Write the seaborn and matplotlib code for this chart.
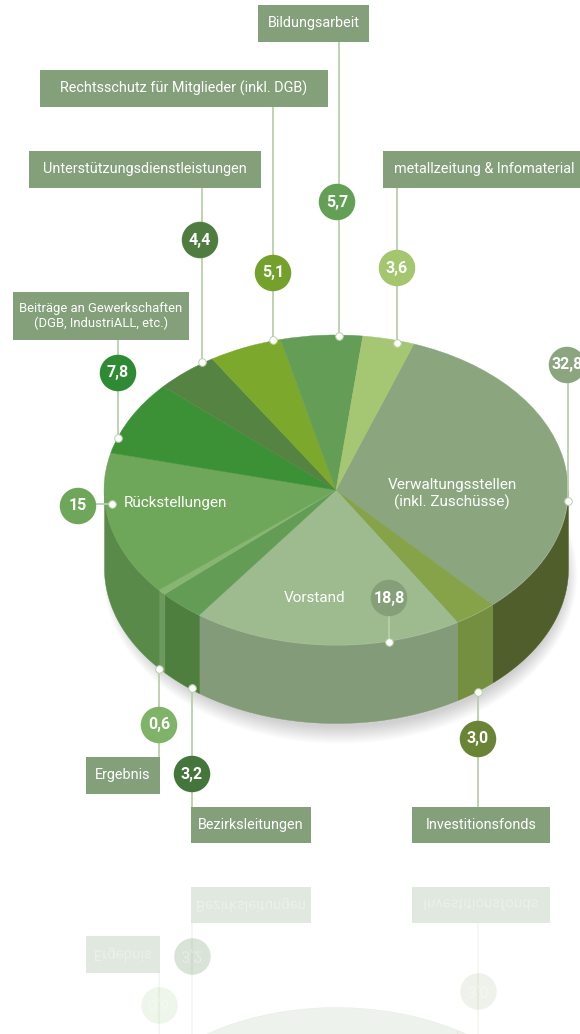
import matplotlib
matplotlib.use("Agg")
import matplotlib.pyplot as plt
import numpy as np
import pandas as pd
import seaborn as sns
from matplotlib.font_manager import FontProperties
from matplotlib.patches import Ellipse, PathPatch, Rectangle
from matplotlib.textpath import TextPath
from matplotlib.transforms import Affine2D

# data, clockwise from the big slice
segments = ["Verwaltungsstellen", "Investitionsfonds", "Vorstand", "Bezirksleitungen", "Ergebnis",
            "Rückstellungen", "Beiträge", "Unterstützung", "Rechtsschutz", "Bildungsarbeit", "metallzeitung"]
shares = [32.8, 3.0, 18.8, 3.2, 0.6, 15.0, 7.8, 4.4, 5.1, 5.7, 3.6]
share_labels = ["32,8", "3,0", "18,8", "3,2", "0,6", "15", "7,8", "4,4", "5,1", "5,7", "3,6"]

top_colors = ["#8ba67e", "#86a34a", "#9dbb8f", "#639c55", "#88b672", "#6ea65a",
              "#3c9136", "#558442", "#7ca82b", "#639d56", "#a5c672"]
wall_colors = ["#4f5e2a", "#748f40", "#839b78", "#4f7f3e", "#6c9a5e", "#5a8a4a",
               "#2f7a30", "#4f7d3f", "#74a12c", "#63a055", "#a3c66f"]
bubble_colors = ["#8ba67e", "#698434", "#85a079", "#44753a", "#7fb368", "#6ea65a",
                 "#2f8a34", "#4f7d3f", "#74a12c", "#63a055", "#a3c66f"]

# layout in picture pixels
CX, CY, RX, RY, DEPTH = 336, 490, 232, 155, 78
START = 70.4
MIRROR = 1730  # reflection: y -> MIRROR - y
BOX = "#84a07a"
LINE = "#b7d0aa"
FONT = ["Roboto"]

bubble_x = [567, 478, 389, 192, 159, 78, 118, 200, 273, 337, 397]
bubble_y = [365, 739, 598, 774, 725, 506, 373, 240, 273, 202, 268]
dot_x = [568, 478, 389, 192, 159, 112, 118, 202, 273, 339, 397]
dot_y = [501, 692, 642, 688, 669, 504, 438, 362, 340, 336, 343]
line_end = [365, 807, 598, 807, 757, 504, 340, 188, 107, 42, 188]

boxes = [
    ("Bildungsarbeit", 258, 5, 111, 37),
    ("Rechtsschutz für Mitglieder (inkl. DGB)", 40, 70, 288, 37),
    ("Unterstützungsdienstleistungen", 29, 151, 232, 37),
    ("metallzeitung & Infomaterial", 383, 151, 210, 37),
    ("Beiträge an Gewerkschaften\n(DGB, IndustriALL, etc.)", 13, 292, 176, 48),
    ("Ergebnis", 86, 757, 74, 37),
    ("Bezirksleitungen", 191, 807, 120, 36),
    ("Investitionsfonds", 412, 807, 138, 36),
]
mirrored = ["Ergebnis", "Bezirksleitungen", "Investitionsfonds"]
mirrored_idx = [segments.index(n) for n in mirrored]

sns.set_theme(style="white")
plt.rcParams["font.family"] = FONT

fig = plt.figure(figsize=(5.8, 10.34), dpi=100)
ax = fig.add_axes([0, 0, 1, 1])

# wedge edges in degrees, counted the way the pie does it
edges = START - np.cumsum([0] + shares) * 3.6


def draw_walls(flip=False, alpha=1.0, z=3):
    for i, col in enumerate(wall_colors):
        hi, lo = edges[i] % 360, edges[i + 1] % 360
        if hi == 0:
            hi = 360
        # only the front half of the rim can be seen
        for a, b in [(max(lo, 180), hi)] if lo < hi else [(max(lo, 180), 360), (180, hi)]:
            if a >= b:
                continue
            th = np.radians(np.linspace(a, b, 80))
            x = CX + RX * np.cos(th)
            y = CY - RY * np.sin(th)
            y0, y1 = y, y + DEPTH
            if flip:
                y0, y1 = MIRROR - y0, MIRROR - y1
            ax.fill_between(x, y0, y1, color=col, alpha=alpha, lw=0.3, zorder=z)


# soft shadow under the disc, pushed down and to the right
for k in range(12):
    ax.add_patch(Ellipse((CX + 4, CY + DEPTH + 7), 2 * RX - 14 + k * 2.2, 2 * RY - 6 + k * 3,
                         color="#555555", alpha=0.024, lw=0, zorder=2))

draw_walls()

wedges, _ = ax.pie(shares, colors=top_colors, startangle=START, counterclock=False,
                   radius=1, wedgeprops={"lw": 0.3, "zorder": 4})
squash = Affine2D().scale(RX, -RY).translate(CX, CY) + ax.transData
for w, col in zip(wedges, top_colors):
    w.set_transform(squash)
    w.set_edgecolor(col)

# connectors
for x0, y0, y1 in zip(dot_x, dot_y, line_end):
    if x0 == 112:
        continue
    ax.plot([x0, x0], [y0, y1], color=LINE, lw=1.3, zorder=5)
ax.plot([78, 112], [504, 504], color=LINE, lw=1.3, zorder=5)

# label boxes
for label, x, y, w, h in boxes:
    ax.add_patch(Rectangle((x, y), w, h, color=BOX, lw=0, zorder=6))
    size = 9.4 if "\n" in label else 10.4
    tx = x + w / 2 if not label.startswith("metall") else x + 11
    ax.text(tx, y + h / 2, label, color="white", fontsize=size, zorder=7, linespacing=1.1,
            ha="center" if not label.startswith("metall") else "left", va="center", clip_on=True)

# value bubbles and rim dots
marks = pd.DataFrame({"segment": segments, "bx": bubble_x, "by": bubble_y, "dx": dot_x, "dy": dot_y})
sns.scatterplot(data=marks, x="bx", y="by", hue="segment", palette=dict(zip(segments, bubble_colors)),
                s=690, linewidth=0, legend=False, zorder=8, ax=ax, clip_on=False)
sns.scatterplot(data=marks, x="dx", y="dy", color="white", s=30, edgecolor=LINE, linewidth=0.7,
                legend=False, zorder=9, ax=ax)
for x, y, label in zip(bubble_x, bubble_y, share_labels):
    ax.text(x, y, label, color="white", fontsize=11.5, fontweight="bold", ha="center", va="center", zorder=10)

# texts on the disc
ax.text(124, 503, "Rückstellungen", color="white", fontsize=11, ha="left", va="center", zorder=7)
ax.text(452, 494, "Verwaltungsstellen\n(inkl. Zuschüsse)", color="white", fontsize=11, ha="center",
        va="center", linespacing=1.15, zorder=7)
ax.text(315, 598, "Vorstand", color="white", fontsize=11, ha="center", va="center", zorder=7)

# faded reflection on the floor
draw_walls(flip=True, alpha=0.13, z=1)
prop = FontProperties(family=FONT, size=10.4)


def mirror_text(label, x, y, size, alpha):
    # y axis points down here, so an unflipped path comes out mirrored
    path = TextPath((0, 0), label, size=size, prop=prop)
    box = path.get_extents()
    path = path.transformed(Affine2D().translate(x - box.width / 2 - box.x0, y - box.height / 2 - box.y0))
    ax.add_patch(PathPatch(path, color="white", lw=0, alpha=alpha, zorder=1.6))


for label, x, y, w, h in boxes:
    if label in mirrored:
        ax.add_patch(Rectangle((x, MIRROR - y - h), w, h, color=BOX, lw=0, alpha=0.24, zorder=1.5))
        mirror_text(label, x + w / 2, MIRROR - y - h / 2, 15, 0.35)
for i, a in zip(mirrored_idx, [0.13, 0.2, 0.1]):
    rx, ry0, ry1 = dot_x[i], MIRROR - dot_y[i], MIRROR - line_end[i]
    ax.plot([rx, rx], [ry0, ry1], color=LINE, lw=1.3, alpha=0.16, zorder=1.2)
    ax.scatter(bubble_x[i], MIRROR - bubble_y[i], s=690, color=bubble_colors[i], alpha=a, lw=0, zorder=1.5)
    mirror_text(share_labels[i], bubble_x[i], MIRROR - bubble_y[i], 16, 0.35)

ax.set_xlim(0, 580)
ax.set_ylim(1034, 0)
ax.set_aspect("auto")
ax.axis("off")
fig.savefig("out.png", dpi=100, facecolor="white")
